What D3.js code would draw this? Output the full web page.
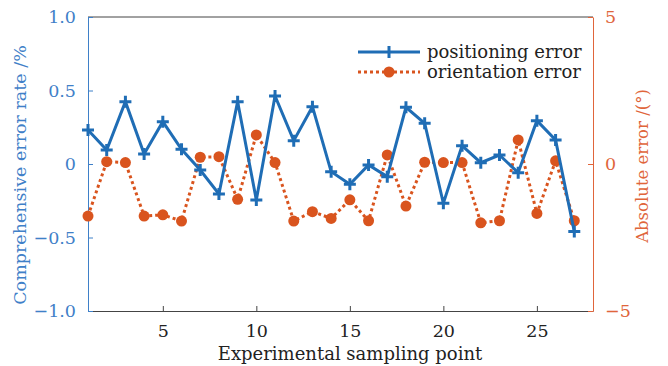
<!DOCTYPE html>
<html><head><meta charset="utf-8">
<script src="https://cdn.jsdelivr.net/npm/d3@7"></script>
<style>body{margin:0;background:#fff}svg{display:block}</style>
</head><body><div id="c"></div>
<script>
const points = d3.range(1, 28);
const positioningError = [0.231,0.095,0.424,0.068,0.288,0.100,-0.041,-0.204,0.424,-0.245,0.463,0.159,0.390,-0.052,-0.138,-0.007,-0.086,0.386,0.277,-0.267,0.125,0.009,0.061,-0.059,0.295,0.163,-0.460];
const orientationError = [-1.77,0.08,0.05,-1.77,-1.73,-1.94,0.23,0.25,-1.20,0.99,0.05,-1.94,-1.62,-1.85,-1.22,-1.93,0.31,-1.43,0.06,0.05,0.05,-2.00,-1.93,0.82,-1.68,0.11,-1.93];
const xTicks = [5,10,15,20,25];
const leftTicks = [1.0,0.5,0,-0.5,-1.0];
const rightTicks = [5,0,-5];

const W=668,H=366, L=88,R=593,T=17,B=311;
const blue="#1f6db5", orange="#d9541e", lblue="#3f80c8", lorange="#e0653b";
const font="'DejaVu Serif', serif";
const svg=d3.select("#c").append("svg").attr("width",W).attr("height",H);
const x=d3.scaleLinear().domain([1,28]).range([L,R]);
const yl=d3.scaleLinear().domain([-1,1]).range([B,T]);
const yr=d3.scaleLinear().domain([-5,5]).range([B,T]);

svg.append("line").attr("x1",L).attr("x2",R).attr("y1",T).attr("y2",T).attr("stroke","#444").attr("stroke-width",1);
const fmtL=d=>d===0?"0":d3.format(".1f")(d).replace("-","\u2212");
const gx=svg.append("g").attr("transform",`translate(0,${B})`).call(d3.axisBottom(x).tickValues(xTicks).tickSize(-5).tickSizeOuter(0).tickPadding(14));
gx.select(".domain").attr("stroke","#444");
gx.selectAll(".tick line").attr("stroke","#444");
gx.selectAll("text").attr("font-family",font).attr("font-size",17.5).attr("fill","#222");
const gl=svg.append("g").attr("transform",`translate(${L},0)`).call(d3.axisLeft(yl).tickValues(leftTicks).tickFormat(fmtL).tickSize(-5).tickSizeOuter(0).tickPadding(12));
gl.select(".domain").attr("stroke",lblue);
gl.selectAll(".tick line").attr("stroke",lblue);
gl.selectAll("text").attr("font-family",font).attr("font-size",17.5).attr("fill",lblue);
const gr=svg.append("g").attr("transform",`translate(${R},0)`).call(d3.axisRight(yr).tickValues(rightTicks).tickFormat(d=>String(d).replace("-","\u2212")).tickSize(-5).tickSizeOuter(0).tickPadding(12));
gr.select(".domain").attr("stroke",lorange);
gr.selectAll(".tick line").attr("stroke",lorange);
gr.selectAll("text").attr("font-family",font).attr("font-size",17.5).attr("fill",lorange);

svg.append("text").attr("x",350).attr("y",360).attr("text-anchor","middle").attr("font-family",font).attr("font-size",18).attr("fill","#222").text("Experimental sampling point");
svg.append("text").attr("transform",`translate(26,${175}) rotate(-90)`).attr("text-anchor","middle").attr("font-family",font).attr("font-size",17.5).attr("fill",lblue).text("Comprehensive error rate /%");
svg.append("text").attr("transform",`translate(648,${166}) rotate(-90)`).attr("text-anchor","middle").attr("font-family",font).attr("font-size",16.5).attr("fill",lorange).text("Absolute error /(°)");

const lineL=d3.line().x((d,i)=>x(points[i])).y(d=>yl(d));
const lineR=d3.line().x((d,i)=>x(points[i])).y(d=>yr(d));
svg.append("path").attr("d",lineR(orientationError)).attr("fill","none").attr("stroke",orange).attr("stroke-width",3).attr("stroke-dasharray","3,3");
svg.append("g").selectAll("circle").data(orientationError).join("circle").attr("cx",(d,i)=>x(points[i])).attr("cy",d=>yr(d)).attr("r",5.5).attr("fill",orange);
svg.append("path").attr("d",lineL(positioningError)).attr("fill","none").attr("stroke",blue).attr("stroke-width",3);
svg.append("g").selectAll("path").data(positioningError).join("path")
  .attr("d","M-6,0H6M0,-6V6").attr("transform",(d,i)=>`translate(${x(points[i])},${yl(d)})`).attr("stroke",blue).attr("stroke-width",3);

const lg=svg.append("g");
lg.append("line").attr("x1",358).attr("x2",420).attr("y1",52).attr("y2",52).attr("stroke",blue).attr("stroke-width",3);
lg.append("path").attr("d","M389,46V58").attr("stroke",blue).attr("stroke-width",3);
lg.append("line").attr("x1",358).attr("x2",420).attr("y1",72).attr("y2",72).attr("stroke",orange).attr("stroke-width",3).attr("stroke-dasharray","3,3");
lg.append("circle").attr("cx",389).attr("cy",72).attr("r",5.5).attr("fill",orange);
lg.append("text").attr("x",427).attr("y",58).attr("font-family",font).attr("font-size",18).attr("fill","#222").text("positioning error");
lg.append("text").attr("x",427).attr("y",78).attr("font-family",font).attr("font-size",18).attr("fill","#222").text("orientation error");
</script></body></html>
